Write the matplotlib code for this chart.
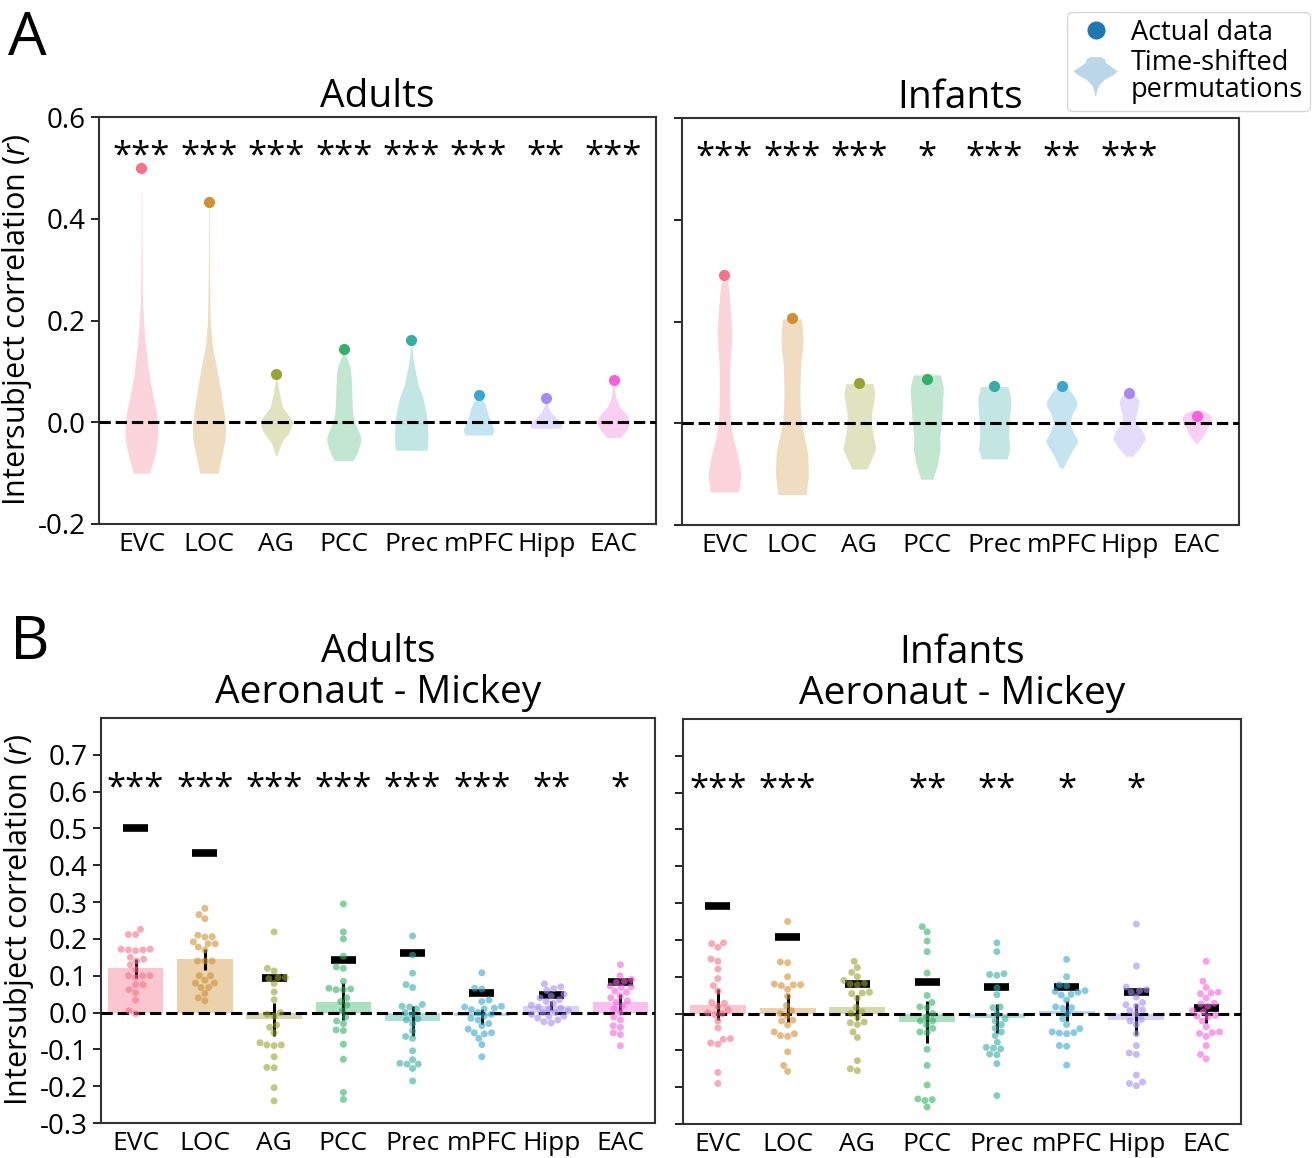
import numpy as np
import pandas as pd
import matplotlib
matplotlib.use('Agg')
import matplotlib.pyplot as plt
import seaborn as sns
from matplotlib.legend_handler import HandlerBase
from matplotlib.patches import Polygon, Patch
from matplotlib.lines import Line2D

plt.rcParams['font.family'] = ['Open Sans', 'DejaVu Sans']
plt.rcParams['mathtext.fontset'] = 'custom'
plt.rcParams['mathtext.rm'] = 'Open Sans'
plt.rcParams['mathtext.it'] = 'Open Sans:italic'
plt.rcParams['axes.unicode_minus'] = False

# ROIs and colours
rois = ['EVC', 'LOC', 'AG', 'PCC', 'Prec', 'mPFC', 'Hipp', 'EAC']
colors = sns.color_palette('husl', 8)

# actual group ISC (dots in A, black bars in B)
adult_actual = [0.500, 0.432, 0.094, 0.144, 0.161, 0.053, 0.047, 0.083]
infant_actual = [0.292, 0.207, 0.079, 0.087, 0.073, 0.073, 0.059, 0.014]

# significance stars
adult_stars = ['***', '***', '***', '***', '***', '***', '**', '***']
infant_stars = ['***', '***', '***', '*', '***', '**', '***', '']
adult_diff_stars = ['***', '***', '***', '***', '***', '***', '**', '*']
infant_diff_stars = ['***', '***', '', '**', '**', '*', '*', '']

# time-shifted permutation distributions: r levels and violin half-widths
adult_perm_r = [
    [0.455, 0.35, 0.25, 0.20, 0.15, 0.10, 0.05, 0.03, 0.0, -0.03, -0.07, -0.10],
    [0.43, 0.30, 0.20, 0.15, 0.10, 0.05, 0.0, -0.03, -0.06, -0.10],
    [0.09, 0.06, 0.03, 0.01, 0.0, -0.02, -0.04, -0.065],
    [0.135, 0.11, 0.09, 0.05, 0.02, 0.0, -0.02, -0.035, -0.06, -0.075],
    [0.155, 0.13, 0.10, 0.07, 0.05, 0.02, 0.0, -0.03, -0.055],
    [0.05, 0.04, 0.03, 0.01, -0.005, -0.015, -0.025],
    [0.045, 0.03, 0.02, 0.01, 0.0, -0.006, -0.012],
    [0.075, 0.05, 0.03, 0.015, 0.0, -0.015, -0.03],
]
adult_perm_w = [
    [0.004, 0.006, 0.012, 0.03, 0.06, 0.105, 0.17, 0.21, 0.24, 0.245, 0.19, 0.115],
    [0.004, 0.008, 0.02, 0.05, 0.125, 0.19, 0.245, 0.245, 0.20, 0.135],
    [0.005, 0.04, 0.09, 0.20, 0.245, 0.19, 0.075, 0.01],
    [0.02, 0.09, 0.11, 0.12, 0.13, 0.16, 0.23, 0.26, 0.20, 0.14],
    [0.005, 0.02, 0.06, 0.11, 0.17, 0.22, 0.24, 0.25, 0.235],
    [0.01, 0.08, 0.11, 0.15, 0.20, 0.23, 0.20],
    [0.01, 0.03, 0.07, 0.14, 0.22, 0.24, 0.22],
    [0.01, 0.03, 0.09, 0.20, 0.245, 0.20, 0.10],
]
infant_perm_r = [
    [0.29, 0.27, 0.20, 0.17, 0.12, 0.08, 0.03, 0.0, -0.03, -0.06, -0.10, -0.135],
    [0.205, 0.18, 0.15, 0.12, 0.08, 0.04, 0.0, -0.03, -0.06, -0.10, -0.14],
    [0.078, 0.06, 0.04, 0.02, 0.0, -0.02, -0.05, -0.07, -0.09],
    [0.095, 0.07, 0.04, 0.0, -0.03, -0.05, -0.08, -0.11],
    [0.072, 0.05, 0.03, 0.0, -0.03, -0.05, -0.07],
    [0.072, 0.06, 0.045, 0.035, 0.02, 0.0, -0.02, -0.035, -0.06, -0.088],
    [0.06, 0.045, 0.03, 0.015, 0.0, -0.015, -0.03, -0.05, -0.065],
    [0.026, 0.02, 0.012, 0.003, -0.01, -0.02, -0.03, -0.04],
]
infant_perm_w = [
    [0.02, 0.06, 0.10, 0.11, 0.08, 0.075, 0.08, 0.09, 0.13, 0.19, 0.245, 0.21],
    [0.14, 0.16, 0.16, 0.13, 0.12, 0.12, 0.14, 0.19, 0.235, 0.245, 0.21],
    [0.20, 0.23, 0.21, 0.18, 0.18, 0.20, 0.245, 0.18, 0.11],
    [0.20, 0.245, 0.235, 0.215, 0.19, 0.20, 0.16, 0.09],
    [0.20, 0.245, 0.24, 0.22, 0.215, 0.235, 0.19],
    [0.06, 0.15, 0.22, 0.23, 0.16, 0.12, 0.18, 0.245, 0.13, 0.02],
    [0.06, 0.15, 0.13, 0.10, 0.10, 0.20, 0.245, 0.15, 0.05],
    [0.06, 0.17, 0.215, 0.21, 0.15, 0.12, 0.07, 0.01],
]

# subject-wise ISC, Aeronaut - Mickey
adult_points = [
    [0.226, 0.212, 0.212, 0.172, 0.170, 0.170, 0.168, 0.172, 0.150, 0.145, 0.140, 0.117,
     0.100, 0.100, 0.100, 0.076, 0.076, 0.062, 0.054, 0.034, 0.005, -0.003, 0.130, 0.095],
    [0.283, 0.266, 0.255, 0.210, 0.206, 0.205, 0.192, 0.187, 0.187, 0.178, 0.140, 0.140,
     0.140, 0.100, 0.100, 0.088, 0.080, 0.080, 0.068, 0.068, 0.052, 0.040, 0.032, 0.170],
    [0.219, 0.120, 0.113, 0.095, 0.095, 0.092, 0.079, 0.056, 0.035, -0.005, -0.010, -0.034,
     -0.040, -0.055, -0.082, -0.088, -0.088, -0.090, -0.120, -0.149, -0.150, -0.204, -0.240, 0.000],
    [0.295, 0.219, 0.200, 0.153, 0.124, 0.120, 0.085, 0.066, 0.064, 0.062, 0.062, 0.030,
     0.020, 0.005, -0.012, -0.023, -0.030, -0.047, -0.049, -0.086, -0.127, -0.217, -0.236, 0.040],
    [0.208, 0.156, 0.107, 0.076, 0.068, 0.022, 0.017, 0.015, 0.000, -0.005, -0.017, -0.030,
     -0.050, -0.065, -0.070, -0.104, -0.128, -0.138, -0.140, -0.140, -0.152, -0.186, 0.010, -0.020],
    [0.108, 0.066, 0.064, 0.034, 0.030, 0.017, 0.015, 0.012, 0.010, 0.008, -0.005, -0.010,
     -0.016, -0.020, -0.030, -0.036, -0.045, -0.055, -0.055, -0.058, -0.070, -0.087, -0.120, 0.000],
    [0.078, 0.070, 0.065, 0.060, 0.050, 0.045, 0.040, 0.035, 0.030, 0.025, 0.020, 0.015,
     0.012, 0.010, 0.005, 0.000, -0.005, -0.010, -0.015, -0.020, -0.025, -0.028, 0.000, -0.010],
    [0.130, 0.100, 0.090, 0.085, 0.082, 0.072, 0.070, 0.068, 0.058, 0.055, 0.045, 0.040,
     0.032, 0.028, 0.018, 0.010, 0.000, -0.012, -0.020, -0.036, -0.040, -0.055, -0.060, -0.090],
]
infant_points = [
    [0.192, 0.190, 0.180, 0.148, 0.142, 0.121, 0.095, 0.076, 0.061, 0.030, 0.028, 0.020,
     0.002, 0.000, -0.003, -0.020, -0.039, -0.068, -0.070, -0.080, -0.083, -0.160, -0.190, 0.010],
    [0.250, 0.140, 0.138, 0.100, 0.080, 0.078, 0.078, 0.076, 0.066, 0.047, 0.022, 0.008,
     0.000, -0.007, -0.018, -0.020, -0.031, -0.050, -0.055, -0.060, -0.062, -0.104, -0.141, -0.157],
    [0.142, 0.125, 0.112, 0.100, 0.090, 0.082, 0.080, 0.078, 0.058, 0.056, 0.054, 0.042,
     0.017, 0.005, -0.023, -0.025, -0.030, -0.050, -0.065, -0.128, -0.150, -0.155, 0.000, -0.010],
    [0.236, 0.222, 0.197, 0.168, 0.110, 0.049, 0.018, 0.016, 0.000, -0.010, -0.020, -0.030,
     -0.040, -0.050, -0.052, -0.097, -0.141, -0.194, -0.232, -0.234, -0.236, -0.254, 0.030, -0.020],
    [0.192, 0.168, 0.108, 0.106, 0.104, 0.070, 0.051, 0.018, 0.016, 0.000, -0.014, -0.030,
     -0.078, -0.092, -0.094, -0.096, -0.110, -0.112, -0.136, -0.223, -0.060, -0.050, -0.040, -0.020],
    [0.147, 0.100, 0.078, 0.075, 0.062, 0.060, 0.058, 0.052, 0.050, 0.037, 0.018, 0.016,
     0.014, -0.014, -0.041, -0.050, -0.052, -0.053, -0.055, -0.087, -0.089, -0.140, 0.000, -0.030],
    [0.243, 0.129, 0.072, 0.065, 0.062, 0.058, 0.045, 0.024, 0.020, 0.008, 0.000, -0.016,
     -0.030, -0.055, -0.087, -0.107, -0.111, -0.167, -0.186, -0.190, -0.196, 0.030, 0.010, -0.020],
    [0.142, 0.088, 0.071, 0.058, 0.056, 0.054, 0.042, 0.028, 0.026, 0.008, 0.005, -0.005,
     -0.007, -0.009, -0.020, -0.036, -0.050, -0.052, -0.054, -0.062, -0.087, -0.111, -0.123, 0.020],
]

# legend violin outline (relative units)
leg_shape_y = [0.75, 0.65, 0.45, 0.2, 0.0, -0.2, -0.45, -0.75, -1.05, -1.3]
leg_shape_w = [0.25, 0.4, 0.45, 0.75, 1.0, 0.8, 0.4, 0.15, 0.06, 0.02]


class ViolinHandler(HandlerBase):
    def create_artists(self, legend, orig_handle, xdescent, ydescent, width, height, fontsize, trans):
        cx = 0.5 * width - xdescent
        cy = 0.5 * height - ydescent + 0.35 * height
        ys = cy + np.array(leg_shape_y) * height
        ws = np.array(leg_shape_w) * 16
        verts = list(zip(cx - ws, ys)) + list(zip(cx + ws[::-1], ys[::-1]))
        p = Polygon(verts, closed=True, facecolor=orig_handle.get_facecolor(),
                    edgecolor='none', transform=trans)
        return [p]


W, H = 1312, 1158
fig = plt.figure(figsize=(W / 100, H / 100), dpi=100)
axA1 = fig.add_axes([99 / W, 1 - 524 / H, 557 / W, 407 / H])
axA2 = fig.add_axes([682 / W, 1 - 525 / H, 557 / W, 407 / H])
axB1 = fig.add_axes([101 / W, 1 - 1123 / H, 554 / W, 405 / H])
axB2 = fig.add_axes([683 / W, 1 - 1124 / H, 558 / W, 405 / H])


def smooth_profile(r, w):
    r = np.asarray(r)
    w = np.asarray(w)
    idx = np.argsort(r)
    yy = np.linspace(r.min(), r.max(), 300)
    ww = np.interp(yy, r[idx], w[idx])
    k = 15
    pad = np.pad(ww, k, mode='edge')
    ww = np.convolve(pad, np.ones(k) / k, mode='same')[k:-k]
    return yy, ww


def style_axes(ax, left_labels):
    for s in ax.spines.values():
        s.set_linewidth(1.5)
        s.set_color('#333333')
    ax.tick_params(axis='y', labelsize=20, length=6, width=1.2, labelleft=left_labels)
    ax.tick_params(axis='x', labelsize=19, length=0, pad=6)
    ax.set_xticks(range(len(rois)))
    ax.set_xticklabels(rois)


def violin_panel(ax, perm_r, perm_w, actual, stars, title, left_labels):
    for i in range(len(rois)):
        yy, ww = smooth_profile(perm_r[i], perm_w[i])
        ax.fill_betweenx(yy, i - ww, i + ww, color=colors[i], alpha=0.3, lw=0, zorder=1)
        ax.plot(i, actual[i], 'o', color=colors[i], ms=7, zorder=4)
        ax.text(i, 0.505, stars[i], ha='center', va='baseline', fontsize=25)
    ax.axhline(0, ls='--', color='k', lw=2.2, zorder=3)
    ax.set_ylim(-0.2, 0.6)
    ax.set_xlim(-0.63, 7.63)
    yt = [-0.2, 0.0, 0.2, 0.4, 0.6]
    ax.set_yticks(yt)
    ax.set_yticklabels(['%.1f' % v for v in yt])
    style_axes(ax, left_labels)
    ax.set_title(title, fontsize=28, pad=7)


def bar_panel(ax, points, actual, stars, title, left_labels):
    df = pd.DataFrame({
        'roi': [rois[i] for i in range(len(rois)) for _ in points[i]],
        'r': [v for p in points for v in p],
    })
    sns.swarmplot(data=df, x='roi', y='r', hue='roi', order=rois, hue_order=rois,
                  palette=colors, size=5, alpha=0.6, linewidth=0, legend=False,
                  ax=ax, zorder=4)
    means = np.array([np.mean(p) for p in points])
    ci = np.array([1.96 * np.std(p, ddof=1) / np.sqrt(len(p)) for p in points])
    x = np.arange(len(rois))
    ax.bar(x, means, width=0.8, color=colors, alpha=0.4, lw=0, zorder=1)
    ax.errorbar(x, means, yerr=ci, fmt='none', ecolor='k', elinewidth=2.2, capsize=0, zorder=2)
    ax.hlines(actual, x - 0.18, x + 0.18, colors='k', lw=5.5, zorder=3)
    ax.axhline(0, ls='--', color='k', lw=2.2, zorder=3.5)
    for i in range(len(rois)):
        ax.text(i, 0.585, stars[i], ha='center', va='baseline', fontsize=25)
    ax.set_ylim(-0.3, 0.8)
    ax.set_xlim(-0.5, 7.5)
    yt = np.round(np.arange(-0.3, 0.71, 0.1), 1)
    ax.set_yticks(yt)
    ax.set_yticklabels(['%.1f' % v for v in yt])
    ax.set_xlabel('')
    ax.set_ylabel('')
    style_axes(ax, left_labels)
    ax.set_title(title, fontsize=28, pad=11, linespacing=1.1)


violin_panel(axA1, adult_perm_r, adult_perm_w, adult_actual, adult_stars, 'Adults', True)
violin_panel(axA2, infant_perm_r, infant_perm_w, infant_actual, infant_stars, 'Infants', False)
bar_panel(axB1, adult_points, adult_actual, adult_diff_stars, 'Adults\nAeronaut - Mickey', True)
bar_panel(axB2, infant_points, infant_actual, infant_diff_stars, 'Infants\nAeronaut - Mickey', False)

for ax in (axA1, axB1):
    ax.set_ylabel('Intersubject correlation ($r$)', fontsize=22, labelpad=3)

fig.text(8 / W, 1 - 55 / H, 'A', fontsize=44, va='baseline')
fig.text(10 / W, 1 - 659 / H, 'B', fontsize=44, va='baseline')

dot = Line2D([], [], marker='o', ls='none', color='#1f77b4', ms=12)
vio = Patch(facecolor=(0.737, 0.840, 0.912))
leg = fig.legend([dot, vio], ['Actual data', 'Time-shifted\npermutations'],
                 loc='upper right', bbox_to_anchor=(1310 / W, 1 - 12 / H),
                 borderaxespad=0, fontsize=19.5, handler_map={Patch: ViolinHandler()},
                 handlelength=1.6, handletextpad=0.5, borderpad=0.25, labelspacing=0.1)
for t in leg.get_texts():
    t.set_linespacing(0.95)

fig.savefig('out.png', dpi=100)
